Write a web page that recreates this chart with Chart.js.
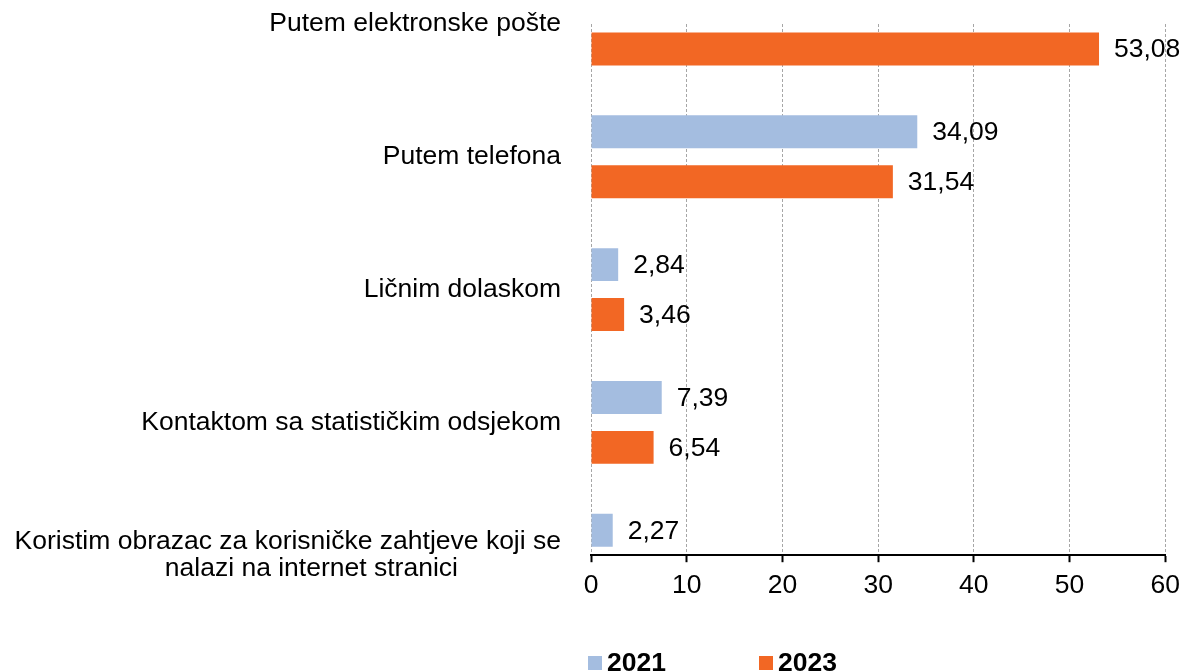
<!DOCTYPE html>
<html>
<head>
<meta charset="utf-8">
<script src="https://cdn.jsdelivr.net/npm/chart.js@4.4.1/dist/chart.umd.min.js"></script>
<style>
  html, body { margin: 0; padding: 0; background: #fff; }
  #wrap { width: 1188px; height: 671px; }
</style>
</head>
<body>
<div id="wrap"><canvas id="chart" width="1188" height="671"></canvas></div>
<script>
// data
const categories = [
  'Putem elektronske pošte',
  'Putem telefona',
  'Ličnim dolaskom',
  'Kontaktom sa statističkim odsjekom',
  ['Koristim obrazac za korisničke zahtjeve koji se', 'nalazi na internet stranici' + '\u00A0'.repeat(14)]
];
const years = ['2021', '2023'];
const values2021 = [null, 34.09, 2.84, 7.39, 2.27];
const values2023 = [53.08, 31.54, 3.46, 6.54, null];
const xTicks = [0, 10, 20, 30, 40, 50, 60];

const colors = ['#A4BDE0', '#F26724'];
const fontFamily = "'Liberation Sans', Arial, sans-serif";
const fontSize = 26.5;

Chart.defaults.font.family = fontFamily;
Chart.defaults.font.size = fontSize;
Chart.defaults.color = '#000';

// value labels at the end of each bar
const valueLabels = {
  id: 'valueLabels',
  afterDatasetsDraw(chart) {
    const ctx = chart.ctx;
    const area = chart.chartArea;
    ctx.save();
    ctx.font = fontSize + 'px ' + fontFamily;
    ctx.fillStyle = '#000';
    ctx.textAlign = 'left';
    ctx.textBaseline = 'middle';
    chart.data.datasets.forEach((ds, i) => {
      chart.getDatasetMeta(i).data.forEach((bar, j) => {
        const v = ds.data[j];
        if (v === null || v === undefined) return;
        if (bar.y < area.top || bar.y > area.bottom) return;
        ctx.fillText(v.toFixed(2).replace('.', ','), bar.x + 15, bar.y + 1);
      });
    });
    ctx.restore();
  }
};

// legend under the axis, starting at the plot's left edge
const bottomLegend = {
  id: 'bottomLegend',
  afterDraw(chart) {
    const ctx = chart.ctx;
    const left = chart.chartArea.left;
    const y = chart.height - 8;
    ctx.save();
    ctx.font = 'bold ' + fontSize + 'px ' + fontFamily;
    ctx.textBaseline = 'middle';
    ctx.textAlign = 'left';
    chart.data.datasets.forEach((ds, i) => {
      const x = left - 3 + i * 171;
      ctx.fillStyle = ds.backgroundColor;
      ctx.fillRect(x, y - 7, 14, 14);
      ctx.fillStyle = '#000';
      ctx.fillText(ds.label, x + 19, y + 1);
    });
    ctx.restore();
  }
};

new Chart(document.getElementById('chart').getContext('2d'), {
  type: 'bar',
  data: {
    labels: categories,
    datasets: [
      { label: years[0], data: values2021, backgroundColor: colors[0], clip: 0 },
      { label: years[1], data: values2023, backgroundColor: colors[1], clip: 0 }
    ]
  },
  options: {
    indexAxis: 'y',
    responsive: false,
    animation: false,
    categoryPercentage: 0.752,
    barPercentage: 0.66,
    layout: { padding: { left: 0, right: 20, top: 24, bottom: 61 } },
    plugins: {
      legend: { display: false },
      tooltip: { enabled: false }
    },
    scales: {
      x: {
        min: 0,
        max: 60,
        afterBuildTicks(scale) { scale.ticks = xTicks.map(v => ({ value: v })); },
        grid: {
          color: '#A6A6A6',
          lineWidth: 1,
          tickLength: 7,
          tickColor: '#000',
          tickWidth: 2
        },
        border: { display: true, color: '#000', width: 2, dash: [3, 2] },
        ticks: { padding: 8, font: { size: fontSize }, color: '#000' }
      },
      y: {
        offset: false,
        grid: { display: false },
        border: { display: false },
        afterFit(scale) {
          scale.width = 591;
          scale.paddingTop = 0;
          scale.paddingBottom = 0;
        },
        ticks: { padding: 22, font: { size: fontSize, lineHeight: 1.05 }, color: '#000', autoSkip: false }
      }
    }
  },
  plugins: [valueLabels, bottomLegend]
});
</script>
</body>
</html>
